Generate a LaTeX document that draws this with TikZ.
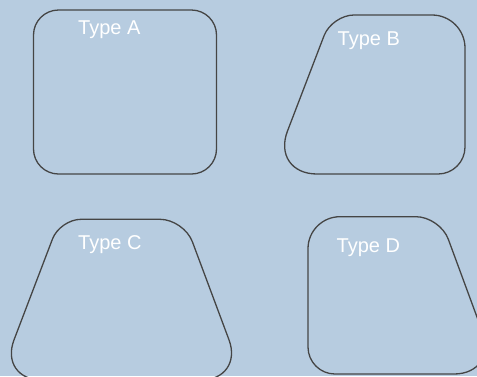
\documentclass[tikz,border=0pt]{standalone}
\usepackage{fontspec}
\setmainfont{Liberation Sans}
\definecolor{bg}{HTML}{B7CCE0}
\definecolor{edge}{HTML}{454545}
\tikzset{
  outline/.style={draw=edge, line width=1.3pt, line join=round},
  lbl/.style={text=white, font=\fontsize{20}{24}\selectfont, anchor=base west, inner sep=0pt}
}
\begin{document}
\begin{tikzpicture}[x=1pt, y=-1pt]
\fill[bg] (0,0) rectangle (477,376);
\useasboundingbox (0,0) rectangle (477,376);
\begin{scope}
\clip (0,0) rectangle (477,376);
% Type A
\draw[outline] (125,10) [rounded corners=25pt] -- (216.5,10) -- (216.5,174) -- (33.5,174) -- (33.5,10) -- cycle;
% Type B
\draw[outline] (400,15) [rounded corners=33pt] -- (465,15) [rounded corners=27pt] -- (465,174) [rounded corners=46pt] -- (271,174) [rounded corners=22pt] -- (332,15) [sharp corners] -- cycle;
% Type C
\draw[outline] (120,219.3) [rounded corners=24pt] -- (184,219.3) [rounded corners=43pt] -- (244,380) [rounded corners=43pt] -- (-1.3,380) [rounded corners=21pt] -- (60,219.3) [sharp corners] -- cycle;
% Type D
\draw[outline] (380,216.7) [rounded corners=24pt] -- (440,216.7) [rounded corners=44pt] -- (498,374) [rounded corners=27pt] -- (308,374) [rounded corners=32pt] -- (308,216.7) [sharp corners] -- cycle;
\end{scope}
\node[lbl] (la) at (78,34.7) {Type A};
\node[lbl] (lb) at (337.5,45.8) {Type B};
\node[lbl] (lc) at (78,249.3) {Type C};
\node[lbl] (ld) at (336.5,252.3) {Type D};
\end{tikzpicture}
\end{document}
